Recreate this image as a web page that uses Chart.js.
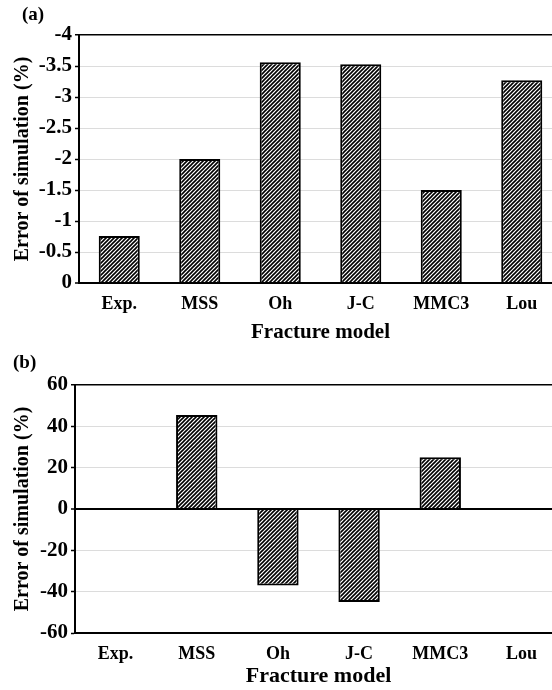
<!DOCTYPE html>
<html>
<head>
<meta charset="utf-8">
<script src="https://cdn.jsdelivr.net/npm/chart.js@4/dist/chart.umd.min.js"></script>
<style>
    html, body { margin: 0; padding: 0; background: #fff; overflow: hidden; }
    .panel { position: absolute; left: 0; }
</style>
</head>
<body>
<div class="panel" style="top:0"><canvas id="errorChartA" width="562" height="345"></canvas></div>
<div class="panel" style="top:345px"><canvas id="errorChartB" width="562" height="345"></canvas></div>
<script>
const models = ['Exp.', 'MSS', 'Oh', 'J-C', 'MMC3', 'Lou'];
// (a) error in %, plotted on a reversed axis
const errorA = [-0.76, -2.0, -3.56, -3.53, -1.5, -3.27];
const rangeA = [-4, 0];
const stepA = 0.5;
// (b) error in %
const errorB = [0, 45.5, -37, -45, 25, 0];
const rangeB = [-60, 60];
const stepB = 20;

const serif = 'Liberation Serif';

function hatch() {
    const c = document.createElement('canvas');
    c.width = 4;
    c.height = 4;
    const g = c.getContext('2d');
    g.fillStyle = '#fff';
    g.fillRect(0, 0, 4, 4);
    g.strokeStyle = '#000';
    g.lineWidth = 1.6;
    g.beginPath();
    g.moveTo(-1, 5); g.lineTo(5, -1);
    g.moveTo(-1, 1); g.lineTo(1, -1);
    g.moveTo(3, 5); g.lineTo(5, 3);
    g.stroke();
    return g.createPattern(c, 'repeat');
}

// small "(a)" / "(b)" tag in the corner
const panelTag = {
    id: 'panelTag',
    afterDraw(chart, args, opts) {
        const ctx = chart.ctx;
        ctx.save();
        ctx.font = 'bold 19px "' + serif + '"';
        ctx.fillStyle = '#000';
        ctx.textBaseline = 'middle';
        ctx.fillText(opts.text, opts.x, opts.y);
        ctx.restore();
    }
};

function init_error(id, data, range, step, opt) {
    const ctx = document.getElementById(id).getContext('2d');
    return new Chart(ctx, {
        type: 'bar',
        data: {
            labels: models,
            datasets: [
                {
                    label: 'Error',
                    data: data,
                    backgroundColor: hatch(),
                    borderColor: '#000',
                    borderWidth: 2,
                    categoryPercentage: 1,
                    barPercentage: 0.51
                }
            ]
        },
        options: {
            responsive: false,
            animation: false,
            layout: {
                padding: { top: opt.top, right: 0, bottom: 0, left: 0 }
            },
            plugins: {
                legend: { display: false },
                tooltip: { enabled: false },
                panelTag: { text: opt.tag, x: opt.tagX, y: opt.tagY }
            },
            scales: {
                x: {
                    afterFit: function (s) { s.height = opt.xHeight; },
                    grid: { color: 'transparent', drawTicks: false },
                    border: { display: true, color: '#000', width: 2 },
                    ticks: {
                        color: '#000',
                        padding: 11,
                        font: { family: serif, size: 18, weight: 'bold' }
                    },
                    title: {
                        display: true,
                        text: 'Fracture model',
                        color: '#000',
                        padding: 0,
                        font: { family: serif, size: opt.titleSize, weight: 'bold' }
                    }
                },
                y: {
                    min: range[0],
                    max: range[1],
                    reverse: opt.reverse,
                    afterFit: function (s) { s.width = opt.yWidth; },
                    grid: {
                        color: function (c) {
                            const v = c.tick ? c.tick.value : null;
                            return opt.dark.indexOf(v) >= 0 ? '#000' : '#dcdcdc';
                        },
                        lineWidth: function (c) {
                            const v = c.tick ? c.tick.value : null;
                            if (v === 0) return 2;
                            return opt.dark.indexOf(v) >= 0 ? 1.5 : 1;
                        },
                        tickColor: '#000',
                        tickWidth: 1.5,
                        tickLength: 4
                    },
                    border: { display: true, color: '#000', width: 2 },
                    ticks: {
                        stepSize: step,
                        color: '#000',
                        padding: 3,
                        font: { family: serif, size: 21, weight: 'bold' },
                        callback: function (v) { return String(Math.round(v * 10) / 10); }
                    },
                    title: {
                        display: true,
                        text: 'Error of simulation (%)',
                        color: '#000',
                        padding: { top: 11, bottom: 0 },
                        font: { family: serif, size: 20, weight: 'bold' }
                    }
                }
            }
        },
        plugins: [panelTag]
    });
}

init_error('errorChartA', errorA, rangeA, stepA, {
    reverse: true, top: 35, xHeight: 62, yWidth: 79, titleSize: 21,
    dark: [-4], tag: '(a)', tagX: 22, tagY: 15
});
init_error('errorChartB', errorB, rangeB, stepB, {
    reverse: false, top: 40, xHeight: 57, yWidth: 75, titleSize: 22,
    dark: [60, 0], tag: '(b)', tagX: 13, tagY: 18
});
</script>
</body>
</html>
